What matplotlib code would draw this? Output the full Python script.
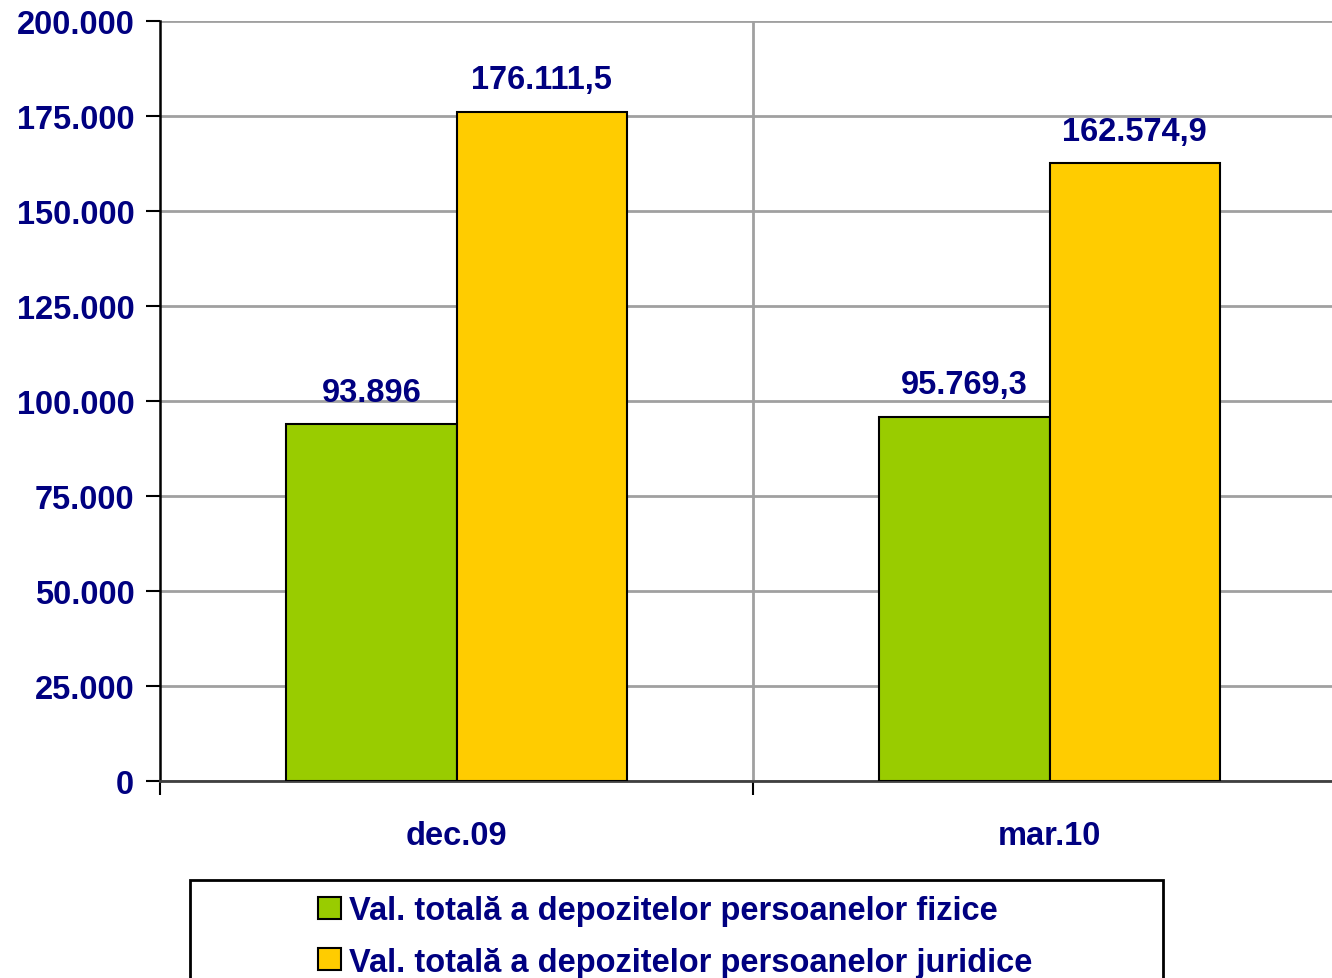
import matplotlib.pyplot as plt
from matplotlib.patches import Rectangle
import numpy as np

# data
categories = ['dec.09', 'mar.10']
fizice = [93896, 95769.3]
juridice = [176111.5, 162574.9]
fizice_labels = ['93.896', '95.769,3']
juridice_labels = ['176.111,5', '162.574,9']
series_names = ['Val. totală a depozitelor persoanelor fizice',
                'Val. totală a depozitelor persoanelor juridice']
yticks = [0, 25000, 50000, 75000, 100000, 125000, 150000, 175000, 200000]
ytick_labels = ['0', '25.000', '50.000', '75.000', '100.000', '125.000',
                '150.000', '175.000', '200.000']

NAVY = '#000080'
plt.rcParams['font.family'] = ['Liberation Sans', 'DejaVu Sans']
plt.rcParams['font.weight'] = 'bold'

fig = plt.figure(figsize=(13.32, 9.79), dpi=100)
ax = fig.add_axes([160 / 1332, 1 - 782 / 979, 1 - 160 / 1332, (782 - 22) / 979])

x = np.arange(len(categories))
w = 0.287
b1 = ax.bar(x - w / 2, fizice, w, color='#99CC00', edgecolor='black', linewidth=1.5,
            label=series_names[0], zorder=3)
b2 = ax.bar(x + w / 2, juridice, w, color='#FFCC00', edgecolor='black', linewidth=1.5,
            label=series_names[1], zorder=3)

for bars, labels in [(b1, fizice_labels), (b2, juridice_labels)]:
    for rect, lab in zip(bars, labels):
        ax.annotate(lab, (rect.get_x() + rect.get_width() / 2, rect.get_height()),
                    xytext=(0, 12), textcoords='offset points', ha='center', va='bottom',
                    fontsize=23.5, fontweight='bold', color=NAVY)

ax.set_yticks(yticks)
ax.set_yticklabels(ytick_labels)
ax.set_xticks(x)
ax.set_xticklabels(categories)
ax.set_xticks([-0.5, 0.5, 1.5], minor=True)
ax.set_ylim(0, 200000)
ax.set_xlim(-0.5, -0.5 + 1172 / 593)

ax.tick_params(axis='y', direction='out', length=10, width=1.5, pad=8.5,
               labelsize=23.5, labelcolor=NAVY, color='black')
ax.tick_params(axis='x', which='major', length=0, pad=28, labelsize=23.5, labelcolor=NAVY)
ax.tick_params(axis='x', which='minor', direction='out', length=10, width=1.5, color='black')
for t in ax.get_xticklabels() + ax.get_yticklabels():
    t.set_fontweight('bold')

ax.grid(axis='y', color='#a0a0a0', linewidth=2, zorder=0)
ax.axvline(0.5, color='#a0a0a0', linewidth=2, zorder=0)
ax.set_axisbelow(True)

for s in ['top', 'right']:
    ax.spines[s].set_visible(False)
ax.spines['left'].set_linewidth(1.8)
ax.spines['left'].set_color('black')
ax.spines['bottom'].set_linewidth(2)
ax.spines['bottom'].set_color('#404040')

# legend frame (cut by the bottom edge like in the reference)
fig.patches.append(Rectangle((190 / 1332, -0.05), (1163 - 190) / 1332, 0.05 + 1 - 881 / 979,
                             transform=fig.transFigure, fill=False, edgecolor='black',
                             linewidth=2))
leg = fig.legend(handles=[b1, b2], loc='upper left',
                 bbox_to_anchor=(302 / 1332, 1 - 880 / 979), frameon=False,
                 fontsize=23.5, handlelength=0.7, handleheight=0.65, handletextpad=0.25,
                 labelspacing=0.62, borderpad=0)
for t in leg.get_texts():
    t.set_color(NAVY)
    t.set_fontweight('bold')

fig.savefig('out.png', dpi=100)
